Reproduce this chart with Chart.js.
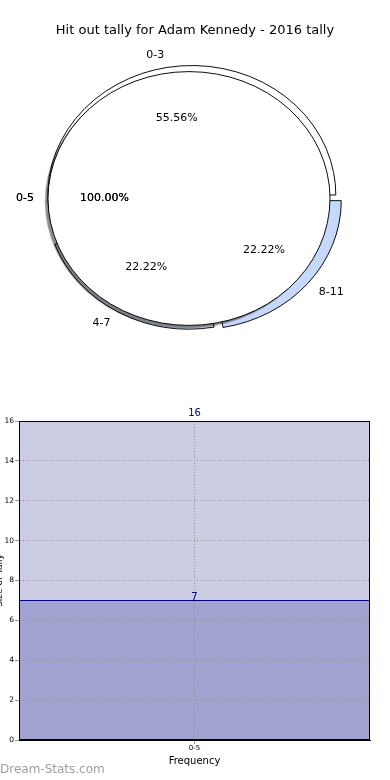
<!DOCTYPE html>
<html>
<head>
<meta charset="utf-8">
<title>Hit out tally - Adam Kennedy</title>
<script src="https://cdn.jsdelivr.net/npm/chart.js@4.4.0/dist/chart.umd.min.js"></script>
<style>
  html, body { margin: 0; padding: 0; background: #fff; }
  #wrap { position: relative; width: 390px; height: 780px; overflow: hidden; font-family: "DejaVu Sans", sans-serif; }
  #title { position: absolute; top: 22px; left: 0; width: 390px; text-align: center; font-size: 13px; line-height: 15px; color: #000; }
  .pie { position: absolute; left: 0; top: 0; }
  #bar { position: absolute; left: -9px; top: 400px; }
  #mark { position: absolute; left: 0; top: 762px; font-size: 12px; line-height: 15px; color: #9e9e9e; }
</style>
</head>
<body>
<div id="wrap">
  <canvas id="pieOuter" class="pie" width="390" height="380"></canvas>
  <canvas id="pieInner" class="pie" width="390" height="380"></canvas>
  <div id="title">Hit out tally for Adam Kennedy - 2016 tally</div>
  <canvas id="bar" width="399" height="372"></canvas>
  <div id="mark">Dream-Stats.com</div>
</div>
<script>
// pie: tally split by range, plus the overall range drawn on top
const pieLabels = ['0-3', '4-7', '8-11'];
const pieValues = [5, 2, 2];
const pieColors = ['#ffffff', '#e4ecfb', '#c6d9fc'];
const pieOffsets = [4, 22, 32];

const totalLabels = ['0-5'];
const totalValues = [1];

// bar: frequency for the range
const barCategories = ['0-5'];
const tallyValues = [7];
const maxValues = [16];
const yTicks = [0, 2, 4, 6, 8, 10, 12, 14, 16];

const SY = 0.9; // pie is drawn slightly flattened

// flatten the arcs around the pie centre
const squash = (shadow) => ({
  id: 'squash',
  beforeDatasetsDraw(chart) {
    const a = chart.getDatasetMeta(0).data[0];
    const ctx = chart.ctx;
    ctx.save();
    ctx.translate(a.x, a.y);
    ctx.scale(1, SY);
    ctx.translate(-a.x, -a.y);
    if (shadow) {
      ctx.shadowColor = 'rgba(0,0,0,0.45)';
      ctx.shadowOffsetX = -3;
      ctx.shadowOffsetY = 3;
      ctx.shadowBlur = 1;
    }
  },
  afterDatasetsDraw(chart) {
    const ctx = chart.ctx;
    if (shadow) {
      // outline of the full circle (no radial seam)
      ctx.shadowColor = 'rgba(0,0,0,0)';
      ctx.strokeStyle = '#000';
      ctx.lineWidth = 1;
      chart.getDatasetMeta(0).data.forEach(a => {
        ctx.beginPath();
        ctx.arc(a.x, a.y, a.outerRadius, a.startAngle, a.endAngle);
        ctx.stroke();
      });
    }
    ctx.restore();
  }
});

// where a label sits for an arc, same shift as the arc's offset
const arcPoint = (arc, frac) => {
  const mid = (arc.startAngle + arc.endAngle) / 2;
  const circ = arc.endAngle - arc.startAngle;
  const off = (arc.options.offset || 0) / 4;
  const shift = off * (2 - Math.sin(Math.min(Math.PI, circ)));
  const r = arc.outerRadius * frac + shift;
  return { x: arc.x + Math.cos(mid) * r, y: arc.y + Math.sin(mid) * r * SY, cos: Math.cos(mid) };
};

const drawPieLabels = (ctx, chart) => {
  const meta = chart.getDatasetMeta(0);
  const vals = chart.data.datasets[0].data;
  const total = vals.reduce((s, v) => s + v, 0);
  meta.data.forEach((arc, i) => {
    const p = arcPoint(arc, 1.1);
    ctx.textAlign = p.cos > 0.001 ? 'left' : 'right';
    ctx.fillText(chart.data.labels[i], p.x, p.y);
    const q = arcPoint(arc, 0.6);
    ctx.textAlign = 'center';
    ctx.fillText((vals[i] / total * 100).toFixed(2) + '%', q.x, q.y);
  });
};

const pieBase = {
  responsive: false,
  animation: false,
  events: [],
  rotation: 90,
  plugins: { legend: { display: false }, tooltip: { enabled: false } }
};

// chart.js goes clockwise, the original goes counter-clockwise -> reverse
const rev = (arr) => arr.slice().reverse();

const outerChart = new Chart(document.getElementById('pieOuter'), {
  type: 'pie',
  data: {
    labels: rev(pieLabels),
    datasets: [{ data: rev(pieValues), backgroundColor: rev(pieColors), borderColor: '#000', borderWidth: 1, offset: rev(pieOffsets) }]
  },
  options: Object.assign({}, pieBase, { radius: 143, layout: { padding: { top: 12, right: 6 } } }),
  plugins: [squash(false)]
});

const innerChart = new Chart(document.getElementById('pieInner'), {
  type: 'pie',
  data: {
    labels: totalLabels,
    datasets: [{ data: totalValues, backgroundColor: '#ffffff', borderWidth: 0 }]
  },
  options: Object.assign({}, pieBase, { radius: 141, layout: { padding: { top: 17, right: 12 } } }),
  plugins: [squash(true), {
    id: 'pieLabels',
    afterDraw(chart) {
      const ctx = chart.ctx;
      ctx.save();
      ctx.font = '11px "DejaVu Sans"';
      ctx.fillStyle = '#000';
      ctx.textBaseline = 'middle';
      drawPieLabels(ctx, outerChart);
      // the overall labels are printed twice in the original, hence darker
      drawPieLabels(ctx, chart);
      drawPieLabels(ctx, chart);
      ctx.restore();
    }
  }]
});

// box round the plot area
const frame = {
  id: 'frame',
  afterDraw(chart) {
    const { left, top, right, bottom } = chart.chartArea;
    const ctx = chart.ctx;
    ctx.save();
    ctx.strokeStyle = '#000';
    ctx.lineWidth = 1;
    ctx.strokeRect(Math.round(left) + 0.5, Math.round(top) + 0.5, Math.round(right - left) - 1, Math.round(bottom - top) - 1);
    ctx.restore();
  }
};

const valueLabels = {
  id: 'valueLabels',
  afterDraw(chart) {
    const ctx = chart.ctx;
    ctx.save();
    ctx.font = '10px "DejaVu Sans"';
    ctx.fillStyle = '#000080';
    ctx.textAlign = 'center';
    ctx.textBaseline = 'alphabetic';
    chart.data.datasets.forEach((ds, di) => {
      chart.getDatasetMeta(di).data.forEach((bar, i) => {
        ctx.fillText(String(ds.data[i]), bar.x, bar.y - ds.labelGap);
      });
    });
    ctx.restore();
  }
};

const gridStyle = { color: '#8c8c8c', lineWidth: 1, z: 1, drawTicks: true, tickLength: 4, tickColor: '#999', offset: false };

new Chart(document.getElementById('bar'), {
  type: 'bar',
  data: {
    labels: barCategories,
    datasets: [
      { data: tallyValues, backgroundColor: '#a2a3d1', borderColor: '#000080', borderWidth: { top: 1, left: 0, right: 0, bottom: 0 }, borderSkipped: false, labelGap: 0 },
      { data: maxValues, backgroundColor: '#cccce5', borderWidth: 0, labelGap: 5 }
    ]
  },
  options: {
    responsive: false,
    animation: false,
    events: [],
    layout: { padding: { top: 21, right: 20, left: 0, bottom: 0 } },
    datasets: { bar: { barPercentage: 1, categoryPercentage: 1 } },
    plugins: { legend: { display: false }, tooltip: { enabled: false } },
    scales: {
      x: {
        stacked: true,
        grid: gridStyle,
        border: { color: '#000', width: 1, dash: [1, 2], z: 2 },
        ticks: { font: { family: 'DejaVu Sans', size: 7 }, color: '#000', padding: 0 },
        title: { display: true, text: 'Frequency', font: { family: 'DejaVu Sans', size: 10 }, color: '#000', padding: { top: 0, bottom: 5 } },
        afterFit: s => { s.height = 32; }
      },
      y: {
        min: 0,
        max: 16,
        afterBuildTicks: s => { s.ticks = yTicks.map(v => ({ value: v })); },
        grid: gridStyle,
        border: { color: '#000', width: 1, dash: [1, 2], z: 2 },
        ticks: { font: { family: 'DejaVu Sans', size: 7.5 }, color: '#000', padding: 1 },
        title: { display: true, text: 'Size of Tally', font: { family: 'DejaVu Sans', size: 9 }, color: '#000', padding: { top: 3, bottom: 0 } },
        afterFit: s => { s.width = 28; }
      }
    }
  },
  plugins: [frame, valueLabels]
});
</script>
</body>
</html>
